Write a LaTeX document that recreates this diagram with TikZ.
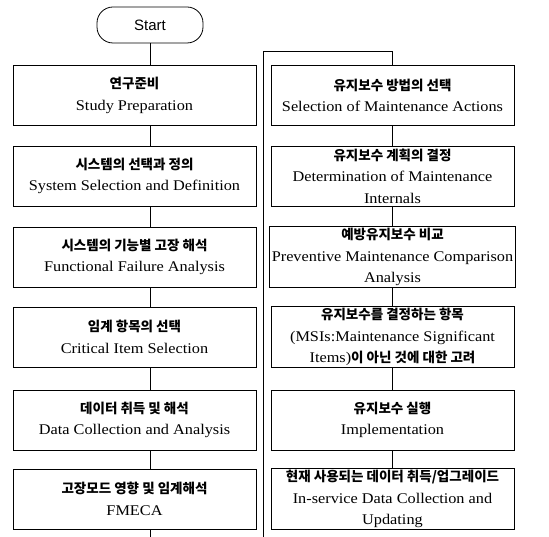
\documentclass[tikz,border=0pt]{standalone}
\usepackage{fontspec}
\setmainfont{Liberation Serif}[FakeStretch=1.1]
\setsansfont{Liberation Sans}
\newfontfamily\kor{Noto Sans CJK KR}
\usetikzlibrary{positioning}

\newcommand{\kr}[1]{{\kor\bfseries\fontsize{13.5}{21}\selectfont #1}}

\tikzset{
  stepbox/.style={draw, line width=0.8pt, minimum width=243pt,
    minimum height=60pt, align=center, inner sep=2pt,
    font=\fontsize{14.8}{21.5}\selectfont},
  startbox/.style={draw, line width=0.8pt, rounded corners=16pt,
    minimum width=106pt, minimum height=36pt,
    font=\sffamily\fontsize{15}{18}\selectfont},
  link/.style={line width=0.8pt}
}

\begin{document}
\begin{tikzpicture}[x=1pt,y=-1pt]
    \useasboundingbox (0,0) rectangle (549,537);

    \node[startbox] (start) at (150,25) {Start};

    % left column
    \node[stepbox] (b1) at (134.5,95.5) {\kr{연구준비}\\Study Preparation};
    \node[stepbox] (b2) at (134.5,176) {\kr{시스템의 선택과 정의}\\System Selection and Definition};
    \node[stepbox] (b3) at (134.5,257) {\kr{시스템의 기능별 고장 해석}\\Functional Failure Analysis};
    \node[stepbox] (b4) at (134.5,337) {\kr{임계 항목의 선택}\\Critical Item Selection};
    \node[stepbox] (b5) at (134.5,420) {\kr{데이터 취득 및 해석}\\Data Collection and Analysis};
    \node[stepbox] (b6) at (134.5,499) {\kr{고장모드 영향 및 임계해석}\\FMECA};

    % right column
    \node[stepbox] (r1) at (392.5,95.5) {\kr{유지보수 방법의 선택}\\Selection of Maintenance Actions};
    \node[stepbox] (r2) at (392.5,176) {\kr{유지보수 계획의 결정}\\Determination of Maintenance\\Internals};
    \node[stepbox] (r3) at (392.5,257) {\kr{예방유지보수 비교}\\Preventive Maintenance Comparison\\Analysis};
    \node[stepbox] (r4) at (392.5,337) {\kr{유지보수를 결정하는 항목}\\(MSIs:Maintenance Significant\\Items)\kr{이 아닌 것에 대한 고려}};
    \node[stepbox] (r5) at (392.5,420) {\kr{유지보수 실행}\\Implementation};
    \node[stepbox] (r6) at (392.5,499) {\kr{현재 사용되는 데이터 취득/업그레이드}\\In-service Data Collection and\\Updating};

    \coordinate (top) at (263,51);
    \coordinate (bot) at (263,537);
    \coordinate (end) at (150,537);

    \draw[link] (start) -- (b1.north -| start);
    \foreach \a/\b in {b1/b2,b2/b3,b3/b4,b4/b5,b5/b6}
        \draw[link] (\a.south -| start) -- (\b.north -| start);
    \draw[link] (b6.south -| start) -- (end);

    \draw[link, line width=0.6pt] (bot) -- (top) -| (r1.north);
    \foreach \a/\b in {r1/r2,r2/r3,r3/r4,r4/r5,r5/r6}
        \draw[link] (\a) -- (\b);
\end{tikzpicture}
\end{document}
